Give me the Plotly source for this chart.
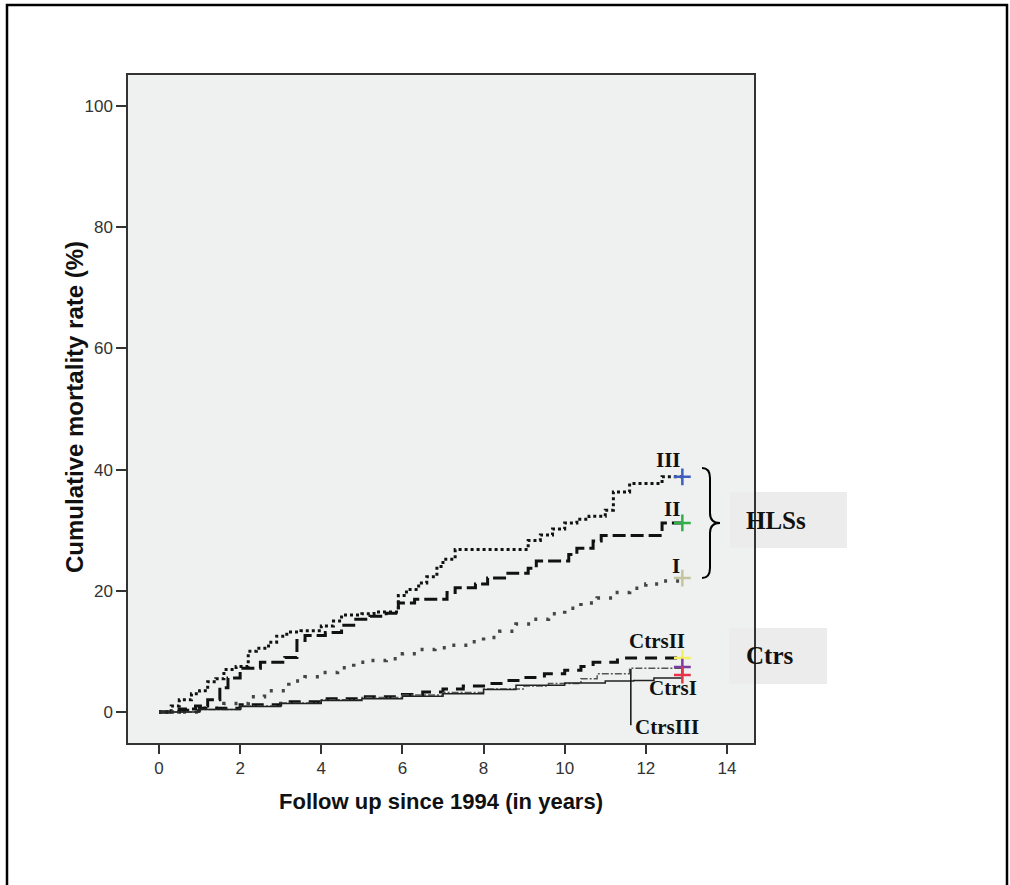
import plotly.graph_objects as go

# ---------------- data ----------------
t_III = [0, 0.3, 0.5, 0.8, 1.0, 1.2, 1.4, 1.6, 1.9, 2.2, 2.4, 2.7, 2.9, 3.15, 3.5, 4.0, 4.3, 4.5,
         5.0, 5.3, 5.9, 6.1, 6.4, 6.6, 6.85, 7.0, 7.3, 9.1, 9.4, 9.7, 10.0, 10.3, 10.6, 11.0,
         11.2, 11.6, 12.4, 12.9]
v_III = [0, 1, 2, 3, 3.5, 5, 5.5, 7, 7.5, 10, 10.5, 11.5, 12.5, 13.2, 13.4, 14.2, 15, 16,
         16.2, 16.5, 19.2, 20.2, 21.3, 22.3, 24, 25.2, 26.8, 28.3, 29.2, 30.2, 31.2, 31.8, 32.3, 33.3,
         36.3, 37.7, 38.8, 38.8]

t_II = [0, 0.5, 0.9, 1.2, 1.5, 1.7, 2.0, 2.5, 3.1, 3.4, 3.6, 4.1, 4.5, 4.8, 5.2, 5.6, 5.9, 6.3,
        7.1, 7.3, 7.8, 8.1, 8.6, 9.1, 9.3, 10.1, 10.3, 10.7, 10.9, 12.4, 12.9]
v_II = [0, 0.5, 1, 2, 4, 5.6, 7.2, 8.2, 9, 11.8, 12.6, 13.1, 14.3, 15.3, 15.8, 16.3, 18, 18.6,
        19.7, 20.5, 21.1, 22.1, 22.9, 23.7, 24.9, 26, 27, 28.2, 29.1, 31.2, 31.2]

t_I = [0, 1.0, 1.6, 2.2, 2.6, 3.2, 3.6, 4.0, 4.4, 4.8, 5.2, 5.6, 6.0, 6.4, 6.8, 7.2, 7.6, 8.0,
       8.4, 8.8, 9.2, 9.6, 10.0, 10.4, 10.8, 11.2, 11.6, 12.0, 12.4, 12.9]
v_I = [0, 0.6, 1.4, 2.5, 3.5, 5.1, 5.8, 6.5, 7.3, 8.2, 8.5, 8.8, 9.6, 10.3, 10.6, 11.0, 11.6, 12.3,
       13.3, 14.5, 15.3, 16.2, 17.1, 18.0, 18.8, 19.7, 20.4, 21.1, 21.6, 22.1]

t_CII = [0, 0.5, 1, 2, 3, 4, 5, 6, 6.5, 7, 7.5, 8, 8.5, 9, 9.5, 10, 10.4, 10.7, 11.3, 12.9]
v_CII = [0, 0.3, 0.6, 1.2, 1.7, 2.2, 2.5, 2.9, 3.3, 3.8, 4.3, 4.7, 5.2, 5.7, 6.3, 6.9, 7.5, 8.2, 8.9, 8.9]

t_CIII = [0, 1, 2, 3, 4, 5, 6, 7, 8, 9, 9.6, 10.4, 10.8, 11.6, 12.9]
v_CIII = [0, 0.4, 1.0, 1.5, 2.0, 2.4, 2.8, 3.2, 3.8, 4.3, 4.7, 5.5, 6.3, 7.2, 7.4]

t_CI = [0, 1, 2, 3, 4, 5, 6, 7, 8, 8.8, 10, 11, 11.7, 12.2, 12.9]
v_CI = [0, 0.4, 0.9, 1.4, 1.9, 2.2, 2.6, 3.0, 3.7, 4.4, 4.8, 5.1, 5.2, 5.6, 6.1]

x_ticks = [0, 2, 4, 6, 8, 10, 12, 14]
y_ticks = [0, 20, 40, 60, 80, 100]

# ---------------- layout geometry ----------------
W, H = 1010, 885
L, R, T, B = 128, 256, 75, 142
PW, PH = W - L - R, H - T - B


def px(x):
    return (x - L) / PW


def py(y):
    return (T + PH - y) / PH


fig = go.Figure()

series = [
    (t_III, v_III, dict(color="#111111", width=3, dash="3px,3px"), "#3f5cc0"),
    (t_II, v_II, dict(color="#111111", width=3, dash="13px,5px"), "#2fb04a"),
    (t_I, v_I, dict(color="#444444", width=3.5, dash="3px,9px"), "#c4c4a0"),
    (t_CII, v_CII, dict(color="#111111", width=3, dash="12px,8px"), "#f2f060"),
    (t_CIII, v_CIII, dict(color="#555555", width=1.5, dash="7px,2px,2px,2px"), "#7a3ea0"),
    (t_CI, v_CI, dict(color="#222222", width=1.5), "#e8344a"),
]

for t, v, ln, mc in series:
    fig.add_trace(go.Scatter(x=t, y=v, mode="lines", line=dict(shape="hv", **ln),
                             showlegend=False, hoverinfo="skip"))
for t, v, ln, mc in series:
    fig.add_trace(go.Scatter(x=[t[-1]], y=[v[-1]], mode="markers",
                             marker=dict(symbol="cross-thin", size=12,
                                         line=dict(color=mc, width=2.5)),
                             showlegend=False, hoverinfo="skip"))

# leader line for CtrsIII
fig.add_trace(go.Scatter(x=[11.63, 11.63], y=[v_CIII[-2] - 0.1, -2.2], mode="lines",
                         line=dict(color="#111111", width=1.5), showlegend=False,
                         hoverinfo="skip"))

serif = "Liberation Serif, Times New Roman, serif"
sans = "Liberation Sans, Arial, sans-serif"
ann = []
for text, cx, cy, size in [("III", 668, 460, 21), ("II", 672, 509, 21), ("I", 676, 566, 21),
                           ("CtrsII", 657, 641, 21), ("CtrsI", 673, 688, 21),
                           ("CtrsIII", 667, 727, 21), ("HLSs", 776, 520, 25),
                           ("Ctrs", 769, 655, 25)]:
    ann.append(dict(text="<b>%s</b>" % text, x=px(cx), y=py(cy), xref="paper", yref="paper",
                    showarrow=False, xanchor="center", yanchor="middle",
                    font=dict(family=serif, size=size, color="#111111")))

# y-axis title
ann.append(dict(text="<b>Cumulative mortality rate (%)</b>", x=px(74), y=py(407),
                xref="paper", yref="paper", showarrow=False, textangle=-90,
                xanchor="center", yanchor="middle",
                font=dict(family=sans, size=24, color="#111111")))

shapes = [
    # outer frame
    dict(type="rect", xref="paper", yref="paper", x0=px(7), x1=px(1007), y0=py(5), y1=py(900),
         line=dict(color="#000000", width=2.5), layer="below"),
    # label boxes
    dict(type="rect", xref="paper", yref="paper", x0=px(730), x1=px(847), y0=py(492), y1=py(548),
         fillcolor="#ececec", line=dict(width=0), layer="below"),
    dict(type="rect", xref="paper", yref="paper", x0=px(729), x1=px(827), y0=py(628), y1=py(684),
         fillcolor="#ececec", line=dict(width=0), layer="below"),
]

pts = [(702, 468), (710, 468), (710, 478), (710, 513), (710, 523), (720, 523), (710, 523),
       (710, 533), (710, 568), (710, 578), (702, 578)]
p = [(px(a), py(b)) for a, b in pts]
path = ("M %f,%f Q %f,%f %f,%f L %f,%f Q %f,%f %f,%f Q %f,%f %f,%f L %f,%f Q %f,%f %f,%f"
        % (p[0] + p[1] + p[2] + p[3] + p[4] + p[5] + p[6] + p[7] + p[8] + p[9] + p[10]))
shapes.append(dict(type="path", xref="paper", yref="paper", path=path,
                   line=dict(color="#000000", width=2)))

fig.update_layout(
    width=W, height=H, margin=dict(l=L, r=R, t=T, b=B, autoexpand=False),
    paper_bgcolor="white", plot_bgcolor="#eff0f0",
    annotations=ann, shapes=shapes,
    xaxis=dict(range=[-0.764, 14.666], tickmode="array", tickvals=x_ticks,
               ticks="outside", ticklen=9, tickwidth=1.5, tickcolor="#333333",
               showline=True, linecolor="#333333", linewidth=1.5, mirror=True,
               showgrid=False, zeroline=False,
               tickfont=dict(family=sans, size=17, color="#333333"),
               title=dict(text="<b>Follow up since 1994 (in years)</b>", standoff=16,
                          font=dict(family=sans, size=22, color="#111111"))),
    yaxis=dict(range=[-5.12, 105.1], tickmode="array", tickvals=y_ticks,
               ticks="outside", ticklen=10, tickwidth=1.5, tickcolor="#333333",
               showline=True, linecolor="#333333", linewidth=1.5, mirror=True,
               showgrid=False, zeroline=False,
               tickfont=dict(family=sans, size=17, color="#333333")),
)

fig.write_html("out.html", config={"displayModeBar": False},
               post_script="document.body.style.margin='0';")
